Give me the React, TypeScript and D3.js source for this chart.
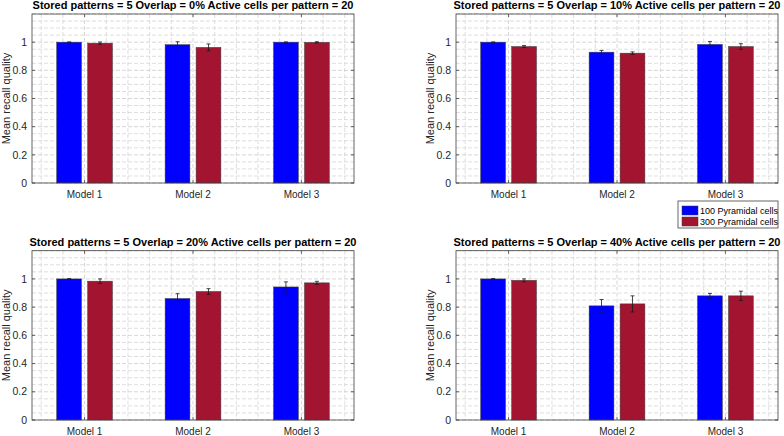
import React, { useEffect, useRef } from 'react';
import * as d3 from 'd3';

// Category labels and series
const models = ['Model 1', 'Model 2', 'Model 3'];
const seriesNames = ['100 Pyramidal cells', '300 Pyramidal cells'];
const seriesColors = ['#0000ff', '#a2142f'];
const overlaps = ['0%', '10%', '20%', '40%'];
const yTicks = [0, 0.2, 0.4, 0.6, 0.8, 1];

// Mean recall quality per overlap (rows) and model (columns)
const means100 = [
    [1.0, 0.982, 1.0],
    [1.0, 0.929, 0.984],
    [1.0, 0.861, 0.943],
    [1.0, 0.809, 0.88],
];
const means300 = [
    [0.993, 0.963, 0.999],
    [0.969, 0.922, 0.969],
    [0.984, 0.911, 0.972],
    [0.99, 0.823, 0.88],
];
// Error bar half-lengths
const err100 = [
    [0.001, 0.021, 0.001],
    [0.001, 0.012, 0.021],
    [0.002, 0.034, 0.036],
    [0.002, 0.045, 0.017],
];
const err300 = [
    [0.008, 0.024, 0.004],
    [0.007, 0.009, 0.02],
    [0.016, 0.02, 0.011],
    [0.01, 0.057, 0.033],
];

const FONT = '"Liberation Sans", Arial, Helvetica, sans-serif';

export default function App() {
    const svgRef = useRef<SVGSVGElement>(null);

    useEffect(() => {
        if (!svgRef.current) return;
        const width = 784;
        const height = 436;

        const svg = d3.select(svgRef.current)
            .attr('width', width)
            .attr('height', height)
            .attr('viewBox', `0 0 ${width} ${height}`);
        svg.selectAll('*').remove();
        svg.append('rect').attr('width', width).attr('height', height).attr('fill', '#ffffff');

        const panels = [
            { x0: 32, x1: 354, y0: 14, y1: 183 },
            { x0: 456, x1: 778, y0: 14, y1: 183 },
            { x0: 32, x1: 354, y0: 250.7, y1: 420 },
            { x0: 456, x1: 778, y0: 250.7, y1: 420 },
        ];

        const groupWidth = 2 / 3.5;
        const barW = 0.8 * groupWidth / 2;
        const offsets = [-groupWidth / 4, groupWidth / 4];

        panels.forEach((p, pi) => {
            const g = svg.append('g');
            const x = d3.scaleLinear().domain([0.515, 3.485]).range([p.x0, p.x1]);
            const y = d3.scaleLinear().domain([0, 1.2]).range([p.y1, p.y0]);

            // minor grid
            const xMinor = d3.range(3, 18).map(i => i * 0.2).filter(v => Math.abs(v - Math.round(v)) > 1e-6);
            const yMinor = d3.range(1, 24).map(i => i * 0.05).filter(v => Math.abs(v * 5 - Math.round(v * 5)) > 1e-6);
            g.selectAll('.xminor').data(xMinor).enter().append('line')
                .attr('x1', d => x(d)).attr('x2', d => x(d))
                .attr('y1', p.y0).attr('y2', p.y1)
                .attr('stroke', '#d0d0d0').attr('stroke-width', 0.7).attr('stroke-dasharray', '4,2');
            g.selectAll('.yminor').data(yMinor).enter().append('line')
                .attr('x1', p.x0).attr('x2', p.x1)
                .attr('y1', d => y(d)).attr('y2', d => y(d))
                .attr('stroke', '#d0d0d0').attr('stroke-width', 0.7).attr('stroke-dasharray', '4,2');
            // major grid
            g.selectAll('.xmajor').data([1, 2, 3]).enter().append('line')
                .attr('x1', d => x(d)).attr('x2', d => x(d))
                .attr('y1', p.y0).attr('y2', p.y1)
                .attr('stroke', '#c4c4c4').attr('stroke-width', 0.7).attr('stroke-dasharray', '4,2');
            g.selectAll('.ymajor').data(yTicks.concat([1.2])).enter().append('line')
                .attr('x1', p.x0).attr('x2', p.x1)
                .attr('y1', d => y(d)).attr('y2', d => y(d))
                .attr('stroke', '#c4c4c4').attr('stroke-width', 0.7).attr('stroke-dasharray', '4,2');

            // bars
            const seriesMeans = [means100[pi], means300[pi]];
            const seriesErr = [err100[pi], err300[pi]];
            seriesMeans.forEach((vals, si) => {
                g.selectAll(`.bar${si}`).data(vals).enter().append('rect')
                    .attr('x', (d, i) => x(i + 1 + offsets[si] - barW / 2))
                    .attr('width', x(barW) - x(0))
                    .attr('y', d => y(d))
                    .attr('height', d => y(0) - y(d))
                    .attr('fill', seriesColors[si])
                    .attr('stroke', '#3a3a3a')
                    .attr('stroke-width', 0.5);
            });
            // error bars
            seriesMeans.forEach((vals, si) => {
                vals.forEach((v, i) => {
                    const e = seriesErr[si][i];
                    const cx = x(i + 1 + offsets[si]);
                    g.append('line').attr('x1', cx).attr('x2', cx)
                        .attr('y1', y(v - e)).attr('y2', y(v + e))
                        .attr('stroke', '#1a1a1a').attr('stroke-width', 0.8);
                    [v - e, v + e].forEach(yy => {
                        g.append('line').attr('x1', cx - 2).attr('x2', cx + 2)
                            .attr('y1', y(yy)).attr('y2', y(yy))
                            .attr('stroke', '#1a1a1a').attr('stroke-width', 0.8);
                    });
                });
            });

            // box
            g.append('rect')
                .attr('x', p.x0).attr('y', p.y0)
                .attr('width', p.x1 - p.x0).attr('height', p.y1 - p.y0)
                .attr('fill', 'none').attr('stroke', '#404040').attr('stroke-width', 0.8);

            // tick marks
            yTicks.forEach(t => {
                g.append('line').attr('x1', p.x0).attr('x2', p.x0 + 3).attr('y1', y(t)).attr('y2', y(t))
                    .attr('stroke', '#404040').attr('stroke-width', 0.8);
                g.append('line').attr('x1', p.x1).attr('x2', p.x1 - 3).attr('y1', y(t)).attr('y2', y(t))
                    .attr('stroke', '#404040').attr('stroke-width', 0.8);
            });
            [1, 2, 3].forEach(t => {
                g.append('line').attr('x1', x(t)).attr('x2', x(t)).attr('y1', p.y1).attr('y2', p.y1 - 3)
                    .attr('stroke', '#404040').attr('stroke-width', 0.8);
                g.append('line').attr('x1', x(t)).attr('x2', x(t)).attr('y1', p.y0).attr('y2', p.y0 + 3)
                    .attr('stroke', '#404040').attr('stroke-width', 0.8);
            });

            // tick labels
            g.selectAll('.ylab').data(yTicks).enter().append('text')
                .attr('x', p.x0 - 5).attr('y', d => y(d)).attr('dy', '0.35em')
                .attr('text-anchor', 'end')
                .attr('font-family', FONT).attr('font-size', '10.5px').attr('fill', '#262626')
                .text(d => d3.format('~g')(d));
            g.selectAll('.xlab').data(models).enter().append('text')
                .attr('x', (d, i) => x(i + 1)).attr('y', p.y1 + 14.5)
                .attr('text-anchor', 'middle')
                .attr('font-family', FONT).attr('font-size', '10px').attr('fill', '#262626')
                .text(d => d);

            // y axis label
            const cy = (p.y0 + p.y1) / 2;
            g.append('text')
                .attr('transform', `translate(${p.x0 - 22},${cy}) rotate(-90)`)
                .attr('text-anchor', 'middle')
                .attr('font-family', FONT).attr('font-size', '11px').attr('fill', '#262626')
                .text('Mean recall quality');

            // title
            g.append('text')
                .attr('x', (p.x0 + p.x1) / 2).attr('y', p.y0 - 5)
                .attr('text-anchor', 'middle')
                .attr('font-family', FONT).attr('font-size', '11px').attr('font-weight', 'bold')
                .attr('fill', '#000000')
                .text(`Stored patterns = 5 Overlap = ${overlaps[pi]} Active cells per pattern = 20`);
        });

        // legend
        const lg = svg.append('g');
        lg.append('rect').attr('x', 678).attr('y', 201).attr('width', 100).attr('height', 27)
            .attr('fill', '#ffffff').attr('stroke', '#404040').attr('stroke-width', 0.8);
        seriesNames.forEach((name, i) => {
            const cy = 210.5 + i * 11;
            lg.append('rect').attr('x', 682).attr('y', cy - 4.5).attr('width', 16).attr('height', 9)
                .attr('fill', seriesColors[i]).attr('stroke', '#3a3a3a').attr('stroke-width', 0.5);
            lg.append('text').attr('x', 700).attr('y', cy).attr('dy', '0.35em')
                .attr('font-family', FONT).attr('font-size', '9px').attr('fill', '#000000')
                .text(name);
        });
    }, []);

    return <svg ref={svgRef} style={{ position: 'absolute', left: 0, top: 0 }} />;
}
